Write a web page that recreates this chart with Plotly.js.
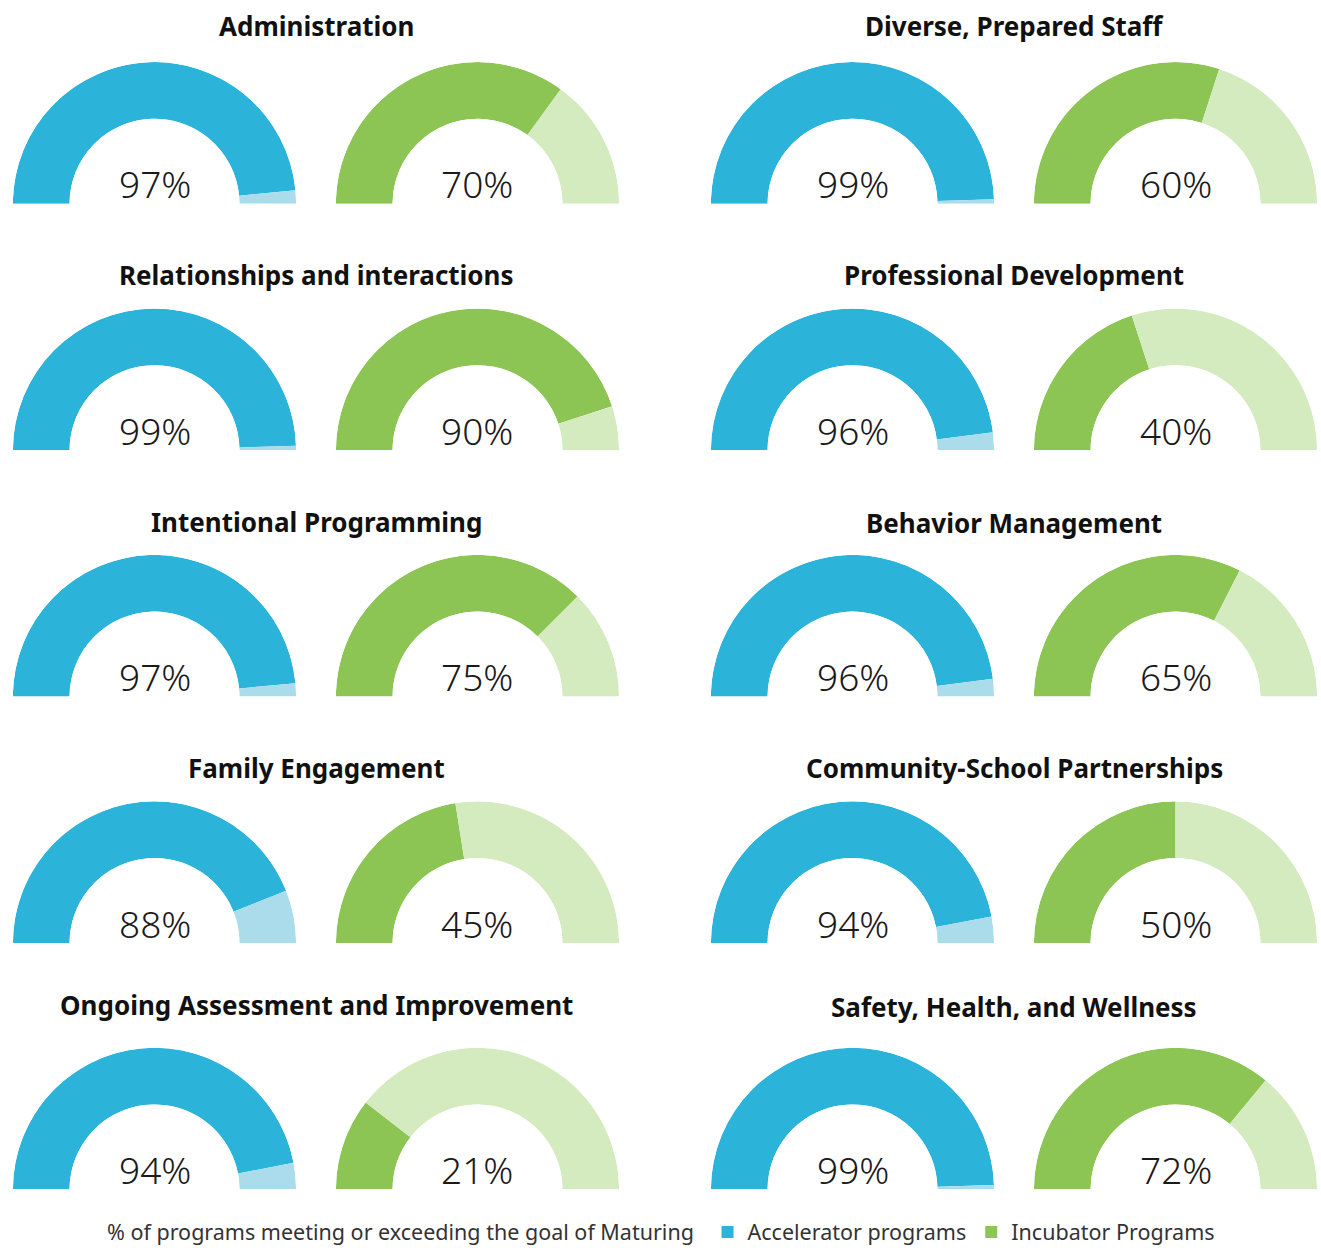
<!DOCTYPE html>
<html>
<head>
<meta charset="utf-8">
<script src="https://cdn.plot.ly/plotly-3.0.1.min.js"></script>
<style>
  html, body { margin: 0; padding: 0; background: #fff; }
  #chart { width: 1321px; height: 1253px; }
</style>
</head>
<body>
<div id="chart"></div>
<script>
// ---- data ----
const categories = [
  "Administration", "Diverse, Prepared Staff",
  "Relationships and interactions", "Professional Development",
  "Intentional Programming", "Behavior Management",
  "Family Engagement", "Community-School Partnerships",
  "Ongoing Assessment and Improvement", "Safety, Health, and Wellness"
];
const accelerator = [97, 99, 99, 96, 97, 96, 88, 94, 94, 99];
const incubator   = [70, 60, 90, 40, 75, 65, 45, 50, 21, 72];
const seriesNames = ["Accelerator programs", "Incubator Programs"];
const footerText = "% of programs meeting or exceeding the goal of Maturing";

// ---- layout / style ----
const W = 1321, H = 1253;
const R = 142.5;
const colCenters = [[154.5, 477.5], [852.5, 1175.5]];
const titleX = [316, 1014];
const rowBase = [205, 453, 701, 949, 1197];
const titleY = [[26, 26], [277, 277], [525, 526], [773, 773], [1011, 1013]];
const labelY = [185, 433, 681, 929, 1177];
const colors = [
  ["#2bb3d9", "#aadcec"],
  ["#8cc554", "#d3ebbf"]
];
const titleFont = { family: "Noto Sans, sans-serif", size: 26, color: "#111", weight: 700 };
const labelFont = { family: "Noto Sans, sans-serif", size: 37, color: "#1a1a1a", weight: 300 };
const footFont = { family: "Noto Sans, sans-serif", size: 21.5, color: "#333" };

const traces = [];
const annotations = [];
const layout = {
  width: W, height: H,
  margin: { l: 0, r: 0, t: 0, b: 0 },
  paper_bgcolor: "#fff",
  showlegend: true,
  legend: {
    orientation: "h",
    x: 105 / W, xanchor: "left",
    y: (H - 1240) / H, yanchor: "middle",
    font: footFont,
    title: { text: footerText + " ", side: "left", font: footFont },
    itemwidth: 30,
    tracegroupgap: 0,
    bgcolor: "rgba(0,0,0,0)"
  },
  annotations: annotations
};

let p = 0;
categories.forEach((cat, i) => {
  const col = i % 2, row = Math.floor(i / 2);
  const vals = [accelerator[i], incubator[i]];
  annotations.push({
    text: cat, xref: "paper", yref: "paper",
    x: titleX[col] / W, y: 1 - titleY[row][col] / H,
    xanchor: "center", yanchor: "middle", showarrow: false, font: titleFont
  });
  vals.forEach((v, s) => {
    p += 1;
    const pid = p === 1 ? "polar" : "polar" + p;
    const cx = colCenters[col][s];
    const by = rowBase[row];
    layout[pid] = {
      domain: {
        x: [(cx - R) / W, (cx + R) / W],
        y: [(H - by) / H, (H - by + R) / H]
      },
      sector: [0, 180],
      hole: 0.6,
      bgcolor: "rgba(0,0,0,0)",
      radialaxis: { visible: false, range: [0, 1], showgrid: false },
      angularaxis: { visible: false, rotation: 180, direction: "clockwise", showgrid: false }
    };
    traces.push({
      type: "barpolar",
      subplot: pid,
      r: [1, 1],
      theta: [v * 0.9, v * 1.8 + (100 - v) * 0.9],
      width: [v * 1.8, (100 - v) * 1.8],
      marker: { color: colors[s], line: { width: 0 } },
      name: seriesNames[s],
      showlegend: i === 0,
      legendrank: s + 1,
      hoverinfo: "skip"
    });
    annotations.push({
      text: v + "%", xref: "paper", yref: "paper",
      x: cx / W, y: 1 - labelY[row] / H,
      xanchor: "center", yanchor: "middle", showarrow: false, font: labelFont
    });
  });
});

Plotly.newPlot("chart", traces, layout, { displayModeBar: false, staticPlot: true });
</script>
</body>
</html>
